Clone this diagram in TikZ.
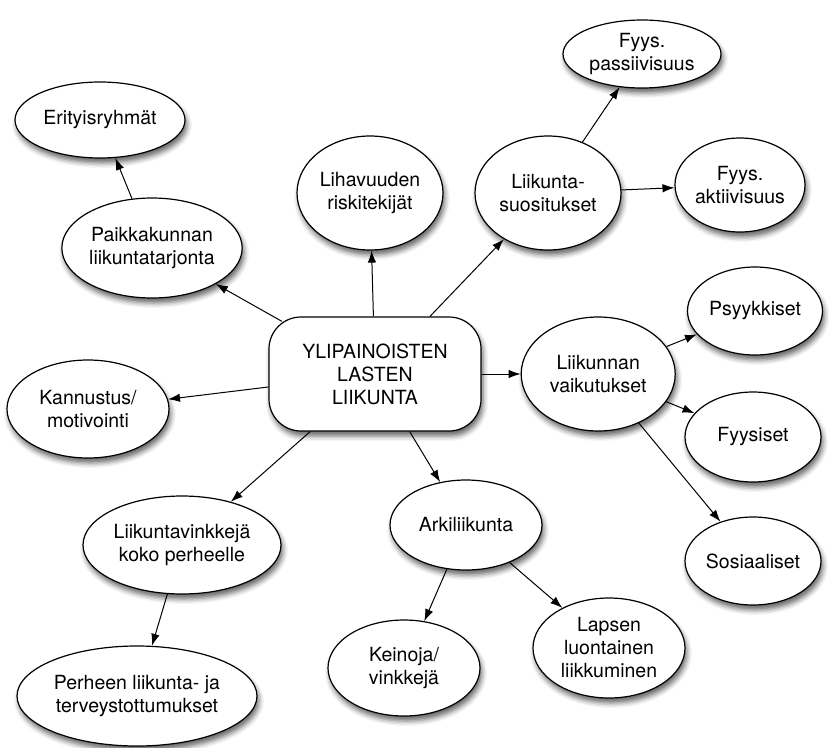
\documentclass[tikz,border=0pt]{standalone}
\usepackage{fontspec}
\setmainfont{TeX Gyre Heros}
\usetikzlibrary{arrows.meta,positioning,shapes.geometric,shadows.blur}

\begin{document}
\begin{tikzpicture}[x=1pt, y=-1pt, >={Latex[length=12pt,width=8.5pt]},
  bubble/.style={ellipse, draw, line width=1.2pt, fill=white, align=center, inner sep=1pt,
    font=\fontsize{19.5}{23}\selectfont,
    blur shadow={shadow xshift=2pt, shadow yshift=-5pt, shadow blur radius=5pt, shadow opacity=60}},
  hub/.style={bubble, rectangle, rounded corners=32pt, minimum width=212pt, minimum height=114pt},
  sz/.style 2 args={minimum width=#1pt, minimum height=#2pt},
  link/.style={->, line width=1pt}]
\useasboundingbox (0,0) rectangle (829,747);
% keskus
\node[hub] (central) at (375,374) {YLIPAINOISTEN\\LASTEN\\LIIKUNTA};
\node[bubble, sz={154}{114}, right=39pt of central] (vaik) {Liikunnan\\vaikutukset};
% ylavasen
\node[bubble, sz={170}{76}] (eri) at (100,120) {Erityisryhmät};
\node[bubble, sz={180}{100}] (paik) at (152,248) {Paikkakunnan\\liikuntatarjonta};
\node[bubble, sz={162}{98}] (kann) at (88,409) {Kannustus/\\motivointi};
% ylhaalla
\node[bubble, sz={146}{114}] (liha) at (370,193) {Lihavuuden\\riskitekijät};
\node[bubble, sz={146}{114}] (suos) at (548,193) {Liikunta-\\suositukset};
\node[bubble, sz={158}{68}] (pass) at (642,54) {Fyys.\\passiivisuus};
\node[bubble, sz={124}{94}] (akt) at (740,185) {Fyys.\\aktiivisuus};
% oikealla
\node[bubble, sz={135}{88}] (psyk) at (755,311) {Psyykkiset};
\node[bubble, sz={136}{90}] (fyys) at (753,437) {Fyysiset};
\node[bubble, sz={136}{88}] (sos) at (753,561) {Sosiaaliset};
% alhaalla
\node[bubble, sz={198}{98}] (vink) at (182,545) {Liikuntavinkkejä\\koko perheelle};
\node[bubble, sz={240}{100}] (perh) at (137,696) {Perheen liikunta- ja\\terveystottumukset};
\node[bubble, sz={152}{90}] (arki) at (466,525) {Arkiliikunta};
\node[bubble, sz={152}{96}] (kein) at (404,668) {Keinoja/\\vinkkejä};
\node[bubble, sz={152}{100}] (laps) at (609,648) {Lapsen\\luontainen\\liikkuminen};
% nuolet
\draw[link, shorten <=-10pt] (central) -- (paik);
\foreach \t in {liha,suos,vaik,kann,vink,arki}
  \draw[link] (central) -- (\t);
\foreach \s/\t in {paik/eri, suos/pass, suos/akt, vaik/psyk, vaik/fyys, vaik/sos,
    vink/perh, arki/kein, arki/laps}
  \draw[link] (\s) -- (\t);
\end{tikzpicture}
\end{document}
